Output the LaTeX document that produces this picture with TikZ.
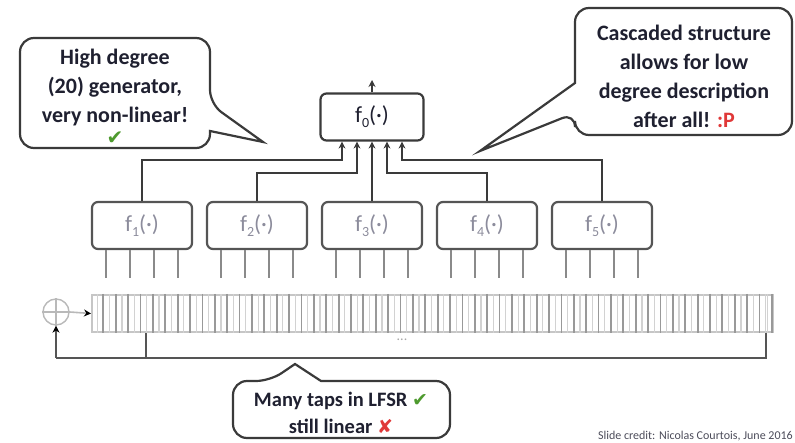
\documentclass[tikz,border=0pt]{standalone}
\usepackage{fontspec}
\setmainfont{Carlito}
\newfontfamily\symfont{DejaVu Sans}
\usetikzlibrary{arrows.meta,calc}
\definecolor{linec}{HTML}{3A3A3A}
\definecolor{boxc}{HTML}{555555}
\definecolor{tapc}{HTML}{8A8A8A}
\definecolor{checkc}{HTML}{4E9A2E}
\definecolor{crossc}{HTML}{E03838}
\definecolor{txtc}{HTML}{1F2030}
\definecolor{lblc}{HTML}{8C8C9C}
\begin{document}
\begin{tikzpicture}[x=1pt,y=-1pt,
  fbox/.style={draw=boxc, line width=2.2pt, rounded corners=6pt, minimum width=100pt, minimum height=47pt, inner sep=0pt, fill=white, text=lblc, font=\fontsize{23}{23}\selectfont},
  topbox/.style={fbox, draw=linec, minimum width=103pt, text=txtc},
  wire/.style={draw=linec, line width=2pt},
  arr/.style={wire, -{Stealth[length=7pt,width=7pt]}},
  tap/.style={draw=tapc, line width=2.2pt},
  regbox/.style={draw=gray!45, line width=2pt, inner sep=0pt, minimum width=681pt, minimum height=37pt},
  fbwire/.style={draw=boxc, line width=2.4pt},
  callout/.style={draw=linec, line width=2.2pt, fill=white},
  ctext/.style={align=center, font=\fontsize{22}{29}\selectfont\bfseries, text=txtc, inner sep=0pt}
]
\useasboundingbox (0,0) rectangle (795,443);

% combining function and filter functions
\node[topbox] (f0) at (372,117) {f\raisebox{-5pt}{\fontsize{14}{14}\selectfont 0}(·)};
\foreach \i/\x in {1/142,2/257,3/372,4/487,5/602}
  \node[fbox] (f\i) at (\x,225.5) {f\raisebox{-5pt}{\fontsize{14}{14}\selectfont \i}(·)};

% inputs of f0
\path (f0.south) ++(-30,0) coordinate (i1) ++(15,0) coordinate (i2) ++(15,0) coordinate (i3) ++(15,0) coordinate (i4) ++(15,0) coordinate (i5);
\coordinate (h1) at (0,160);
\coordinate (h2) at (0,173);
\draw[arr] (f1.north) |- (h1 -| i1) -- (i1);
\draw[arr] (f2.north) |- (h2 -| i2) -- (i2);
\draw[arr] (f3.north) -- (i3);
\draw[arr] (f4.north) |- (h2 -| i4) -- (i4);
\draw[arr] (f5.north) |- (h1 -| i5) -- (i5);
\coordinate (out) at (372,80);
\draw[arr] (f0.north) -- (out);

% taps under the filter functions
\foreach \i in {1,...,5}
  \foreach \d in {-36,-12,12,36}
    \draw[tap] ([xshift=\d pt]f\i.south) -- ++(0,28);

% LFSR register
\node[regbox] (reg) at (432.5,313.5) {};
\foreach \k in {1,...,55}{
  \draw[draw=gray!80, line width=1.8pt] ([xshift=\k*12.38pt]reg.north west) -- ([xshift=\k*12.38pt]reg.south west);
  \draw[draw=gray!35, line width=1.2pt] ([xshift=\k*12.38pt-6.19pt]reg.north west) -- ([xshift=\k*12.38pt-6.19pt]reg.south west);
}
\draw[draw=gray!35, line width=1.2pt] ([xshift=-6.19pt]reg.north east) -- ([xshift=-6.19pt]reg.south east);
\node[text=gray!70, font=\fontsize{14}{14}\selectfont] (dots) at (402,340) {...};

% XOR and feedback
\node[circle, draw=gray!55, line width=1.4pt, minimum size=26pt, inner sep=0pt] (xor) at (56,312) {};
\draw[draw=gray!55, line width=1.4pt] (xor.west) -- (xor.east) (xor.north) -- (xor.south);
\draw[draw=gray!55, line width=1.6pt, -{Stealth[length=7pt,width=7pt,color=black]}] (xor.east) -- (reg.west);
\coordinate (fbl) at (56,358);
\draw[fbwire] ([xshift=55pt]reg.south west) |- (fbl);
\draw[fbwire] ([xshift=-8pt]reg.south east) |- (fbl);
\draw[fbwire, -{Stealth[length=7pt,width=7pt,color=black]}] (fbl) -- (xor.south);

% callouts
\draw[callout] (115,38) [rounded corners=14pt] -- (210,38) -- (210,104) [sharp corners] -- (263,142) -- (210,131) [rounded corners=14pt] -- (210,148) -- (20,148) -- (20,38) -- cycle;
\node[ctext] (lt) at (115,97) {High degree\\(20) generator,\\very non-linear!\\[-7pt]{\symfont\fontsize{20}{20}\selectfont\color{checkc}✔}};

\draw[callout] (684,8) [rounded corners=14pt] -- (792,8) -- (792,135) -- (575,135) -- (575,113) [sharp corners] -- (480,151) -- (575,83) [rounded corners=14pt] -- (575,8) -- cycle;
\node[ctext] (rt) at (684,76) {Cascaded structure\\allows for low\\degree description\\after all! {\color{crossc}:P}};

\draw[callout] (233,410) [rounded corners=14pt] -- (233,381) -- (270,381) [sharp corners] -- (295,364) -- (321,381) [rounded corners=14pt] -- (450,381) -- (450,438) -- (233,438) -- cycle;
\node[ctext, font=\fontsize{20.5}{27}\selectfont\bfseries] (bt) at (341,413) {Many taps in LFSR {\symfont\fontsize{19}{19}\selectfont\color{checkc}✔}\\still linear {\symfont\fontsize{19}{19}\selectfont\color{crossc}✘}};

\node[anchor=east, text=txtc!80, font=\fontsize{12}{12}\selectfont, inner sep=0pt] (credit) at (793,436) {Slide credit: Nicolas Courtois, June 2016};
\end{tikzpicture}
\end{document}
